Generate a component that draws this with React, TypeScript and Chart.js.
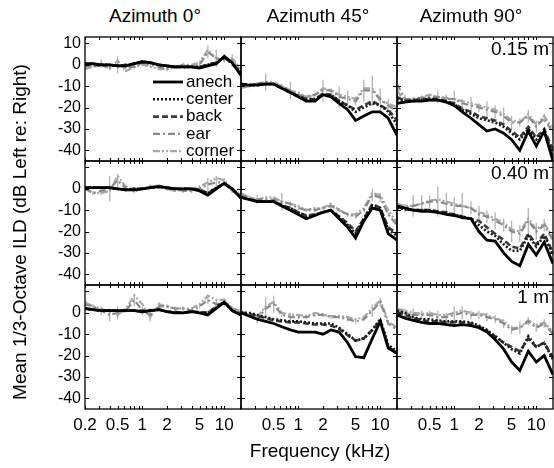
import React, { useEffect, useRef } from "react";
import { Chart, registerables } from "chart.js";
Chart.register(...registerables);

const FONT = '"Liberation Sans", Arial, Helvetica, sans-serif';

// ---------- data ----------
const FREQS = [0.2, 0.25, 0.315, 0.4, 0.5, 0.63, 0.8, 1, 1.25, 1.6, 2, 2.5, 3.15, 4, 5, 6.3, 8, 10, 12.5, 16];
const SERIES_NAMES = ["anech", "center", "back", "ear", "corner"];
const AZIMUTH_TITLES = ["Azimuth 0°", "Azimuth 45°", "Azimuth 90°"];
const DISTANCE_LABELS = ["0.15 m", "0.40 m", "1 m"];
const Y_TICKS = [10, 0, -10, -20, -30, -40];
const X_TICKS_FIRST = [0.2, 0.5, 1, 2, 5, 10];
const X_TICKS_REST = [0.5, 1, 2, 5, 10];
const X_MINOR = [0.2, 0.3, 0.4, 0.5, 0.6, 0.7, 0.8, 0.9, 1, 2, 3, 4, 5, 6, 7, 8, 9, 10];
const X_MIN = 0.2, X_MAX = 16, Y_MIN = -45, Y_MAX = 13;

// Azimuth 0, 0.15 m
const az0_d015_anech = [0.5, 0.5, 0, 0, -0.5, -0.5, 0.5, 1.5, 1, 0, -0.5, -1, -1, -1, -1.5, -0.5, 0.5, 4, 1, -5];
const az0_d015_center = [0.5, 0.5, 0, 0, -0.5, -0.5, 0.5, 1.5, 1, 0, -0.5, -1, -1, -1, -1, 0, 1, 3.5, 1, -4];
const az0_d015_back = [0, 0, -0.5, 0, -0.5, 0, 0.5, 1, 1, 0, -0.5, -1, -1, -1, -1, 0, 1, 3.5, 0.5, -4];
const az0_d015_ear = [-1, 0, 0.5, -1, 0, -1, -1, 1, 0, -1, -2, -1, 0, -1, 0, 6, 3, 3, 2, -3];
const az0_d015_corner = [-2, -1, 0, -2, 2, -3, -1, 0, -1, -2, -2, -1, 0, 0, 1, 7, 3, 2, 3, -2];
const az0_d015_err = [1, 1, 2, 1, 4, 2, 1, 1, 1, 1, 1, 1, 1, 1, 1, 3, 4, 2, 3, 4];

// Azimuth 45, 0.15 m
const az45_d015_anech = [-9, -9.5, -9.5, -9, -9, -11, -13, -15, -17, -17, -14, -15, -18, -21, -26, -24, -22, -22, -25, -33];
const az45_d015_center = [-9, -9.5, -9.5, -9, -9, -11, -13, -15, -16, -16, -14, -14, -17, -19, -22, -20, -18, -19, -22, -28];
const az45_d015_back = [-9, -9.5, -9, -9, -9, -11, -13, -14.5, -16, -16, -13.5, -14, -17, -19, -21, -19, -17, -19, -21, -26];
const az45_d015_ear = [-10, -10, -9, -8, -9, -10, -12, -14, -15, -14, -12, -12, -15, -16, -17, -12, -12, -16, -19, -22];
const az45_d015_corner = [-11, -10, -9, -8, -8, -10, -12, -13, -15, -14, -11, -12, -14, -15, -16, -11, -11, -17, -18, -20];
const az45_d015_err = [1, 1, 1, 4, 1, 1, 4, 1, 1, 1, 5, 1, 5, 4, 2, 5, 7, 5, 3, 3];

// Azimuth 90, 0.15 m
const az90_d015_anech = [-18, -17.5, -17, -17, -16.5, -16.5, -17.5, -19, -22, -25, -28, -31, -30, -32, -35, -40, -31, -38, -31, -45];
const az90_d015_center = [-16, -17, -17, -16.5, -16, -16.5, -17, -18.5, -21, -23, -25, -26, -27, -29, -32, -35, -30, -35, -31, -42];
const az90_d015_back = [-15, -17, -16.5, -16, -16, -16, -17, -18, -20.5, -22, -24, -25, -26, -28, -31, -34, -29, -34, -30, -40];
const az90_d015_ear = [-9, -16, -16, -15.5, -15, -15, -16, -16, -18, -19, -20, -21, -22, -24, -27, -27, -24, -29, -25, -32];
const az90_d015_corner = [-12, -17, -16, -15, -14, -15, -15.5, -16, -17, -18, -19, -20, -21, -23, -26, -27, -23, -28, -24, -30];
const az90_d015_err = [3, 2, 1, 1, 1, 3, 2, 4, 2, 4, 2, 4, 3, 4, 3, 2, 3, 3, 2, 3];

// Azimuth 0, 0.40 m
const az0_d040_anech = [0.5, 0.5, 0.5, 0.5, 0, -0.5, -0.5, 0, 0.5, 1, 0.5, 0, 0, 0, -1, -3, 0, 2.5, 0, -4.5];
const az0_d040_center = [0.5, 0.5, 0.5, 0.5, 0, -0.5, 0, 0, 0.5, 1, 0.5, 0, 0, 0, -0.5, -2, 0.5, 2.5, 0, -4];
const az0_d040_back = [0.5, 0.5, 0.5, 0.5, 0, -0.5, 0, 0, 0.5, 1, 0.5, 0, 0, 0, -0.5, -2, 0.5, 2.5, -0.5, -4];
const az0_d040_ear = [0, -2, -1, 0, 4, 0, -1, 0, 1, 1, 0, 0, -1, -1, 0, 2, 3, 3, -1, -3];
const az0_d040_corner = [0, -2, -2, -1, 6, 1, -1, 0, 1, 1.5, 0, -1, -0.5, 0, 1, 3, 5, 4, 0, -3];
const az0_d040_err = [1, 1, 2, 6, 3, 1, 1, 1, 1, 1, 1, 1, 1, 1, 1, 3, 3, 2, 1, 1];

// Azimuth 45, 0.40 m
const az45_d040_anech = [-4, -5, -6, -6, -6, -8, -10, -12, -14, -12.5, -11, -10, -14, -18, -23, -15, -9, -10, -21, -24];
const az45_d040_center = [-4, -5, -6, -6, -6, -8, -9, -11, -13, -12, -11, -10, -13, -17, -21, -14, -8, -9, -19, -22];
const az45_d040_back = [-4, -5, -5.5, -6, -6, -7.5, -9, -11, -12.5, -12, -11, -10, -13, -16, -20, -14, -7, -9, -18, -21];
const az45_d040_ear = [-3, -4, -5, -5, -5, -6, -7, -9, -10, -10, -9, -8, -10, -12, -13, -10, -3, -4, -12, -17];
const az45_d040_corner = [-2, -4, -5, -4, -4, -6, -7, -8, -10, -9, -9, -7, -10, -12, -12, -9, -2, -3, -10, -16];
const az45_d040_err = [2, 1, 2, 1, 1, 4, 1, 1, 1, 1, 1, 1, 1, 1, 1, 1, 3, 2, 1, 3];

// Azimuth 90, 0.40 m
const az90_d040_anech = [-8, -9, -10, -10.5, -10.5, -11, -12, -12.5, -13.5, -14, -20, -24, -24.5, -30, -34, -36, -26, -31, -25, -35];
const az90_d040_center = [-9, -9.5, -10, -10, -10, -11, -11.5, -12, -13, -14, -17, -20, -22, -26, -29, -29, -22, -27, -22, -31];
const az90_d040_back = [-8.5, -9.5, -10, -10, -10, -10.5, -11, -12, -13, -14, -15, -18, -21, -24, -27, -28, -21, -26, -21, -30];
const az90_d040_ear = [-8, -9, -8, -7, -6, -6, -7, -8, -8, -9, -12, -13, -15, -17, -20, -21, -15, -20, -17, -24];
const az90_d040_corner = [-7, -8, -8, -7, -5.5, -5, -6, -7, -8, -9, -11, -12, -14, -16, -19, -20, -14, -19, -16, -23];
const az90_d040_err = [4, 2, 5, 4, 3, 7, 5, 4, 6, 3, 4, 3, 4, 3, 5, 4, 6, 4, 3, 3];

// Azimuth 0, 1 m
const az0_d100_anech = [2, 1.5, 1, 1, 1, 1, 1, 0.5, 1, 1.5, 0.5, 0, 0, 0.5, 0, -1, 2, 5, 1, -1];
const az0_d100_center = [2, 1.5, 1, 1, 1, 1, 1, 0.5, 1, 1.5, 0.5, 0, 0, 0.5, 0, 0, 2.5, 5, 1, -0.5];
const az0_d100_back = [2, 1.5, 1, 1, 1, 1, 1, 1, 1, 1.5, 0.5, 0.5, 0, 0.5, 0.5, 0, 3, 5, 1, -1];
const az0_d100_ear = [4, 3, 1, -1, 0, 1, 6, 1, -1, 3, 3, 2, 2, 1, 3, 6, 4, 5, 2, 0];
const az0_d100_corner = [5, 3, 2, 0, -1, 2, 8, 4, -2, 4, 3, 2, 2, 2, 4, 8, 6, 6, 2, 1];
const az0_d100_err = [2, 1, 2, 3, 3, 1, 3, 2, 3, 2, 1, 1, 1, 1, 1, 2, 2, 2, 1, 1];

// Azimuth 45, 1 m
const az45_d100_anech = [0, -1.5, -3, -4, -5, -6.5, -8, -9, -9, -9, -10, -8, -9, -14, -20.5, -21, -12, -4, -16.5, -19];
const az45_d100_center = [0, 0, -1, -2, -3, -3.5, -4, -4, -4.5, -5, -5, -5, -7, -10, -13, -12, -8, -3, -15, -18];
const az45_d100_back = [0, -0.5, -1.5, -2.5, -3.5, -4, -4.5, -4.5, -5, -5.5, -5.5, -6, -7.5, -10.5, -13, -12, -8, -3.5, -16, -18.5];
const az45_d100_ear = [0, -1, -3, 2, 4, -1, -2, -2, -2, -1, -1, -2, -2, -3, -4, -3, 1, 5, -5, -8];
const az45_d100_corner = [1, -1, -2, 3, 5, 0, -1, -1, -1.5, 0, -1, -1.5, -1.5, -2, -3, -2, 2, 6, -4, -7];
const az45_d100_err = [1, 1, 2, 5, 4, 1, 2, 1, 1, 1, 1, 1, 1, 1, 1, 1, 3, 2, 1, 1];

// Azimuth 90, 1 m
const az90_d100_anech = [-1, -2.5, -3.5, -4.5, -5, -5, -5.5, -6, -5.5, -6, -7, -9, -12.5, -17, -23, -27, -18, -23, -20, -29];
const az90_d100_center = [1, 0, -2, -3, -3, -3.5, -4, -4, -4, -4.5, -6, -8, -11, -14, -17, -19, -11, -16, -14, -22];
const az90_d100_back = [0, -1, -2.5, -3.5, -4, -4, -4.5, -4.5, -4.5, -5, -6.5, -8.5, -11, -14, -16, -18, -12, -16, -14, -21];
const az90_d100_ear = [1, 0, -1, -1, -1, -2, -2, -1, 0, -1, -1, -2, -3, -5, -8, -7, -4, -7, -5, -10];
const az90_d100_corner = [2, 1, 0, -0.5, 0, -1, -1, 0, 1, 0, -0.5, -1, -2.5, -4, -7, -7, -3.5, -6, -4.5, -9];
const az90_d100_err = [2, 2, 3, 2, 2, 3, 2, 4, 3, 2, 2, 2, 2, 2, 2, 3, 2, 2, 2, 2];

const PANELS = [
  [
    { anech: az0_d015_anech, center: az0_d015_center, back: az0_d015_back, ear: az0_d015_ear, corner: az0_d015_corner, err: az0_d015_err },
    { anech: az45_d015_anech, center: az45_d015_center, back: az45_d015_back, ear: az45_d015_ear, corner: az45_d015_corner, err: az45_d015_err },
    { anech: az90_d015_anech, center: az90_d015_center, back: az90_d015_back, ear: az90_d015_ear, corner: az90_d015_corner, err: az90_d015_err },
  ],
  [
    { anech: az0_d040_anech, center: az0_d040_center, back: az0_d040_back, ear: az0_d040_ear, corner: az0_d040_corner, err: az0_d040_err },
    { anech: az45_d040_anech, center: az45_d040_center, back: az45_d040_back, ear: az45_d040_ear, corner: az45_d040_corner, err: az45_d040_err },
    { anech: az90_d040_anech, center: az90_d040_center, back: az90_d040_back, ear: az90_d040_ear, corner: az90_d040_corner, err: az90_d040_err },
  ],
  [
    { anech: az0_d100_anech, center: az0_d100_center, back: az0_d100_back, ear: az0_d100_ear, corner: az0_d100_corner, err: az0_d100_err },
    { anech: az45_d100_anech, center: az45_d100_center, back: az45_d100_back, ear: az45_d100_ear, corner: az45_d100_corner, err: az45_d100_err },
    { anech: az90_d100_anech, center: az90_d100_center, back: az90_d100_back, ear: az90_d100_ear, corner: az90_d100_corner, err: az90_d100_err },
  ],
];

// ---------- styles & layout ----------
const STYLES: Record<string, { color: string; width: number; dash: number[] }> = {
  anech: { color: "#000000", width: 2.8, dash: [] },
  center: { color: "#1a1a1a", width: 2.6, dash: [2, 2] },
  back: { color: "#3c3c3c", width: 2.6, dash: [6, 3] },
  ear: { color: "#8a8a8a", width: 2.2, dash: [7, 3, 2, 3] },
  corner: { color: "#a8a8a8", width: 2.2, dash: [7, 2, 2, 2, 2, 2] },
};

const PANEL_W = 156;
const PANEL_H = 124;
const LEFT0 = 85;
const TOP0 = 37;
const YW = 85;
const XH = 34;
const PAD = 6;

function Panel({ row, col }: { row: number; col: number }) {
  const ref = useRef<HTMLCanvasElement | null>(null);
  const isLeft = col === 0;
  const isBottom = row === 2;
  const left = isLeft ? 0 : LEFT0 + col * PANEL_W - PAD;
  const top = TOP0 + row * PANEL_H - PAD;
  const width = isLeft ? YW + PANEL_W + PAD : PANEL_W + 2 * PAD;
  const height = PANEL_H + PAD + (isBottom ? XH : PAD);

  useEffect(() => {
    const p: any = PANELS[row][col];
    const datasets = SERIES_NAMES.map((name) => ({
      label: name,
      data: FREQS.map((f, i) => ({ x: f, y: p[name][i] })),
      borderColor: STYLES[name].color,
      backgroundColor: STYLES[name].color,
      borderWidth: STYLES[name].width,
      borderDash: STYLES[name].dash,
      borderCapStyle: "butt",
      pointRadius: 0,
      tension: 0,
      fill: false,
    }));

    const errPlugin = {
      id: "errbars",
      beforeDatasetsDraw(chart: any) {
        const { ctx, chartArea: a, scales } = chart;
        ctx.save();
        ctx.beginPath();
        ctx.rect(a.left, a.top, a.right - a.left, a.bottom - a.top);
        ctx.clip();
        ctx.strokeStyle = "#b4b4b4";
        ctx.lineWidth = 1.3;
        FREQS.forEach((f, i) => {
          const x = scales.x.getPixelForValue(f);
          const y1 = scales.y.getPixelForValue(p.ear[i] + p.err[i]);
          const y2 = scales.y.getPixelForValue(p.ear[i] - p.err[i]);
          ctx.beginPath();
          ctx.moveTo(x, y1);
          ctx.lineTo(x, y2);
          ctx.stroke();
        });
        ctx.restore();
      },
    };

    const framePlugin = {
      id: "frame",
      afterDatasetsDraw(chart: any) {
        const { ctx, chartArea: a, scales } = chart;
        ctx.save();
        ctx.strokeStyle = "#000";
        ctx.lineWidth = 1.3;
        ctx.setLineDash([]);
        ctx.strokeRect(a.left, a.top, a.right - a.left, a.bottom - a.top);
        ctx.lineWidth = 1;
        ctx.beginPath();
        X_MINOR.forEach((v) => {
          const x = Math.round(scales.x.getPixelForValue(v)) + 0.5;
          ctx.moveTo(x, a.top);
          ctx.lineTo(x, a.top + 3);
          ctx.moveTo(x, a.bottom);
          ctx.lineTo(x, a.bottom - 3);
        });
        Y_TICKS.forEach((v) => {
          const y = Math.round(scales.y.getPixelForValue(v)) + 0.5;
          ctx.moveTo(a.left, y);
          ctx.lineTo(a.left + 4, y);
          ctx.moveTo(a.right, y);
          ctx.lineTo(a.right - 4, y);
        });
        ctx.stroke();
        ctx.restore();
      },
    };

    const legendPlugin = {
      id: "innerLegend",
      afterDatasetsDraw(chart: any) {
        const { ctx, chartArea: a } = chart;
        ctx.save();
        ctx.font = `17px ${FONT}`;
        ctx.textBaseline = "middle";
        ctx.textAlign = "left";
        chart.data.datasets.forEach((ds: any, i: number) => {
          const y = a.top + 45 + i * 17.3;
          ctx.strokeStyle = ds.borderColor;
          ctx.lineWidth = ds.borderWidth;
          ctx.setLineDash(ds.borderDash);
          ctx.beginPath();
          ctx.moveTo(a.right - 88, y);
          ctx.lineTo(a.right - 58, y);
          ctx.stroke();
          ctx.fillStyle = "#000";
          ctx.fillText(ds.label, a.right - 55, y);
        });
        ctx.restore();
      },
    };

    const xTicks = col === 0 ? X_TICKS_FIRST : X_TICKS_REST;
    const yTicks = row === 0 ? Y_TICKS : Y_TICKS.filter((v) => v <= 0);

    const chart = new Chart(ref.current as HTMLCanvasElement, {
      type: "line",
      data: { datasets } as any,
      options: {
        animation: false,
        responsive: false,
        maintainAspectRatio: false,
        devicePixelRatio: 1,
        events: [],
        layout: {
          padding: { left: isLeft ? 0 : PAD, right: PAD, top: PAD, bottom: isBottom ? 0 : PAD },
        },
        plugins: { legend: { display: false }, tooltip: { enabled: false } },
        scales: {
          x: {
            type: "logarithmic",
            min: X_MIN,
            max: X_MAX,
            display: isBottom,
            grid: { display: false, drawTicks: false },
            border: { display: false },
            ticks: {
              color: "#000",
              font: { family: FONT, size: 17 },
              padding: 6,
              autoSkip: false,
              maxRotation: 0,
              minRotation: 0,
              callback: (v: any) => String(v),
            },
            afterBuildTicks: (s: any) => {
              s.ticks = xTicks.map((v) => ({ value: v }));
            },
            afterFit: (s: any) => {
              s.height = isBottom ? XH : 0;
              s.paddingLeft = 0;
              s.paddingRight = 0;
              s.paddingTop = 0;
              s.paddingBottom = 0;
            },
          },
          y: {
            type: "linear",
            min: Y_MIN,
            max: Y_MAX,
            display: isLeft,
            grid: { display: false, drawTicks: false },
            border: { display: false },
            ticks: {
              color: "#000",
              font: { family: FONT, size: 16 },
              padding: 4,
              autoSkip: false,
              callback: (v: any) => String(v),
            },
            afterBuildTicks: (s: any) => {
              s.ticks = yTicks.map((v) => ({ value: v }));
            },
            afterFit: (s: any) => {
              s.width = isLeft ? YW : 0;
              s.paddingLeft = 0;
              s.paddingRight = 0;
              s.paddingTop = 0;
              s.paddingBottom = 0;
            },
          },
        },
      } as any,
      plugins: row === 0 && col === 0 ? [errPlugin, framePlugin, legendPlugin] : [errPlugin, framePlugin],
    });
    return () => chart.destroy();
  }, [row, col]);

  return (
    <canvas
      ref={ref}
      width={width}
      height={height}
      style={{ position: "absolute", left, top, width, height, display: "block" }}
    />
  );
}

const textStyle: React.CSSProperties = {
  position: "absolute",
  fontFamily: FONT,
  fontSize: 19,
  color: "#000",
  whiteSpace: "nowrap",
  lineHeight: "22px",
};

export default function App() {
  const titleCenters = [155, 318, 471];
  return (
    <div
      style={{
        position: "absolute",
        left: 0,
        top: 0,
        width: 554,
        height: 468,
        overflow: "hidden",
        background: "#fff",
      }}
    >
      {[0, 1, 2].map((r) => [0, 1, 2].map((c) => <Panel key={`${r}-${c}`} row={r} col={c} />))}
      {AZIMUTH_TITLES.map((t, i) => (
        <div key={t} style={{ ...textStyle, left: titleCenters[i] - 80, width: 160, textAlign: "center", top: 5 }}>
          {t}
        </div>
      ))}
      {DISTANCE_LABELS.map((t, i) => (
        <div key={t} style={{ ...textStyle, right: 5, top: TOP0 + i * PANEL_H + 1, textAlign: "right" }}>
          {t}
        </div>
      ))}
      <div style={{ ...textStyle, left: 170, width: 300, textAlign: "center", top: 440 }}>Frequency (kHz)</div>
      <div
        style={{
          ...textStyle,
          left: 20 - 200,
          top: 232 - 11,
          width: 400,
          textAlign: "center",
          transform: "rotate(-90deg)",
        }}
      >
        Mean 1/3-Octave ILD (dB Left re: Right)
      </div>
    </div>
  );
}
